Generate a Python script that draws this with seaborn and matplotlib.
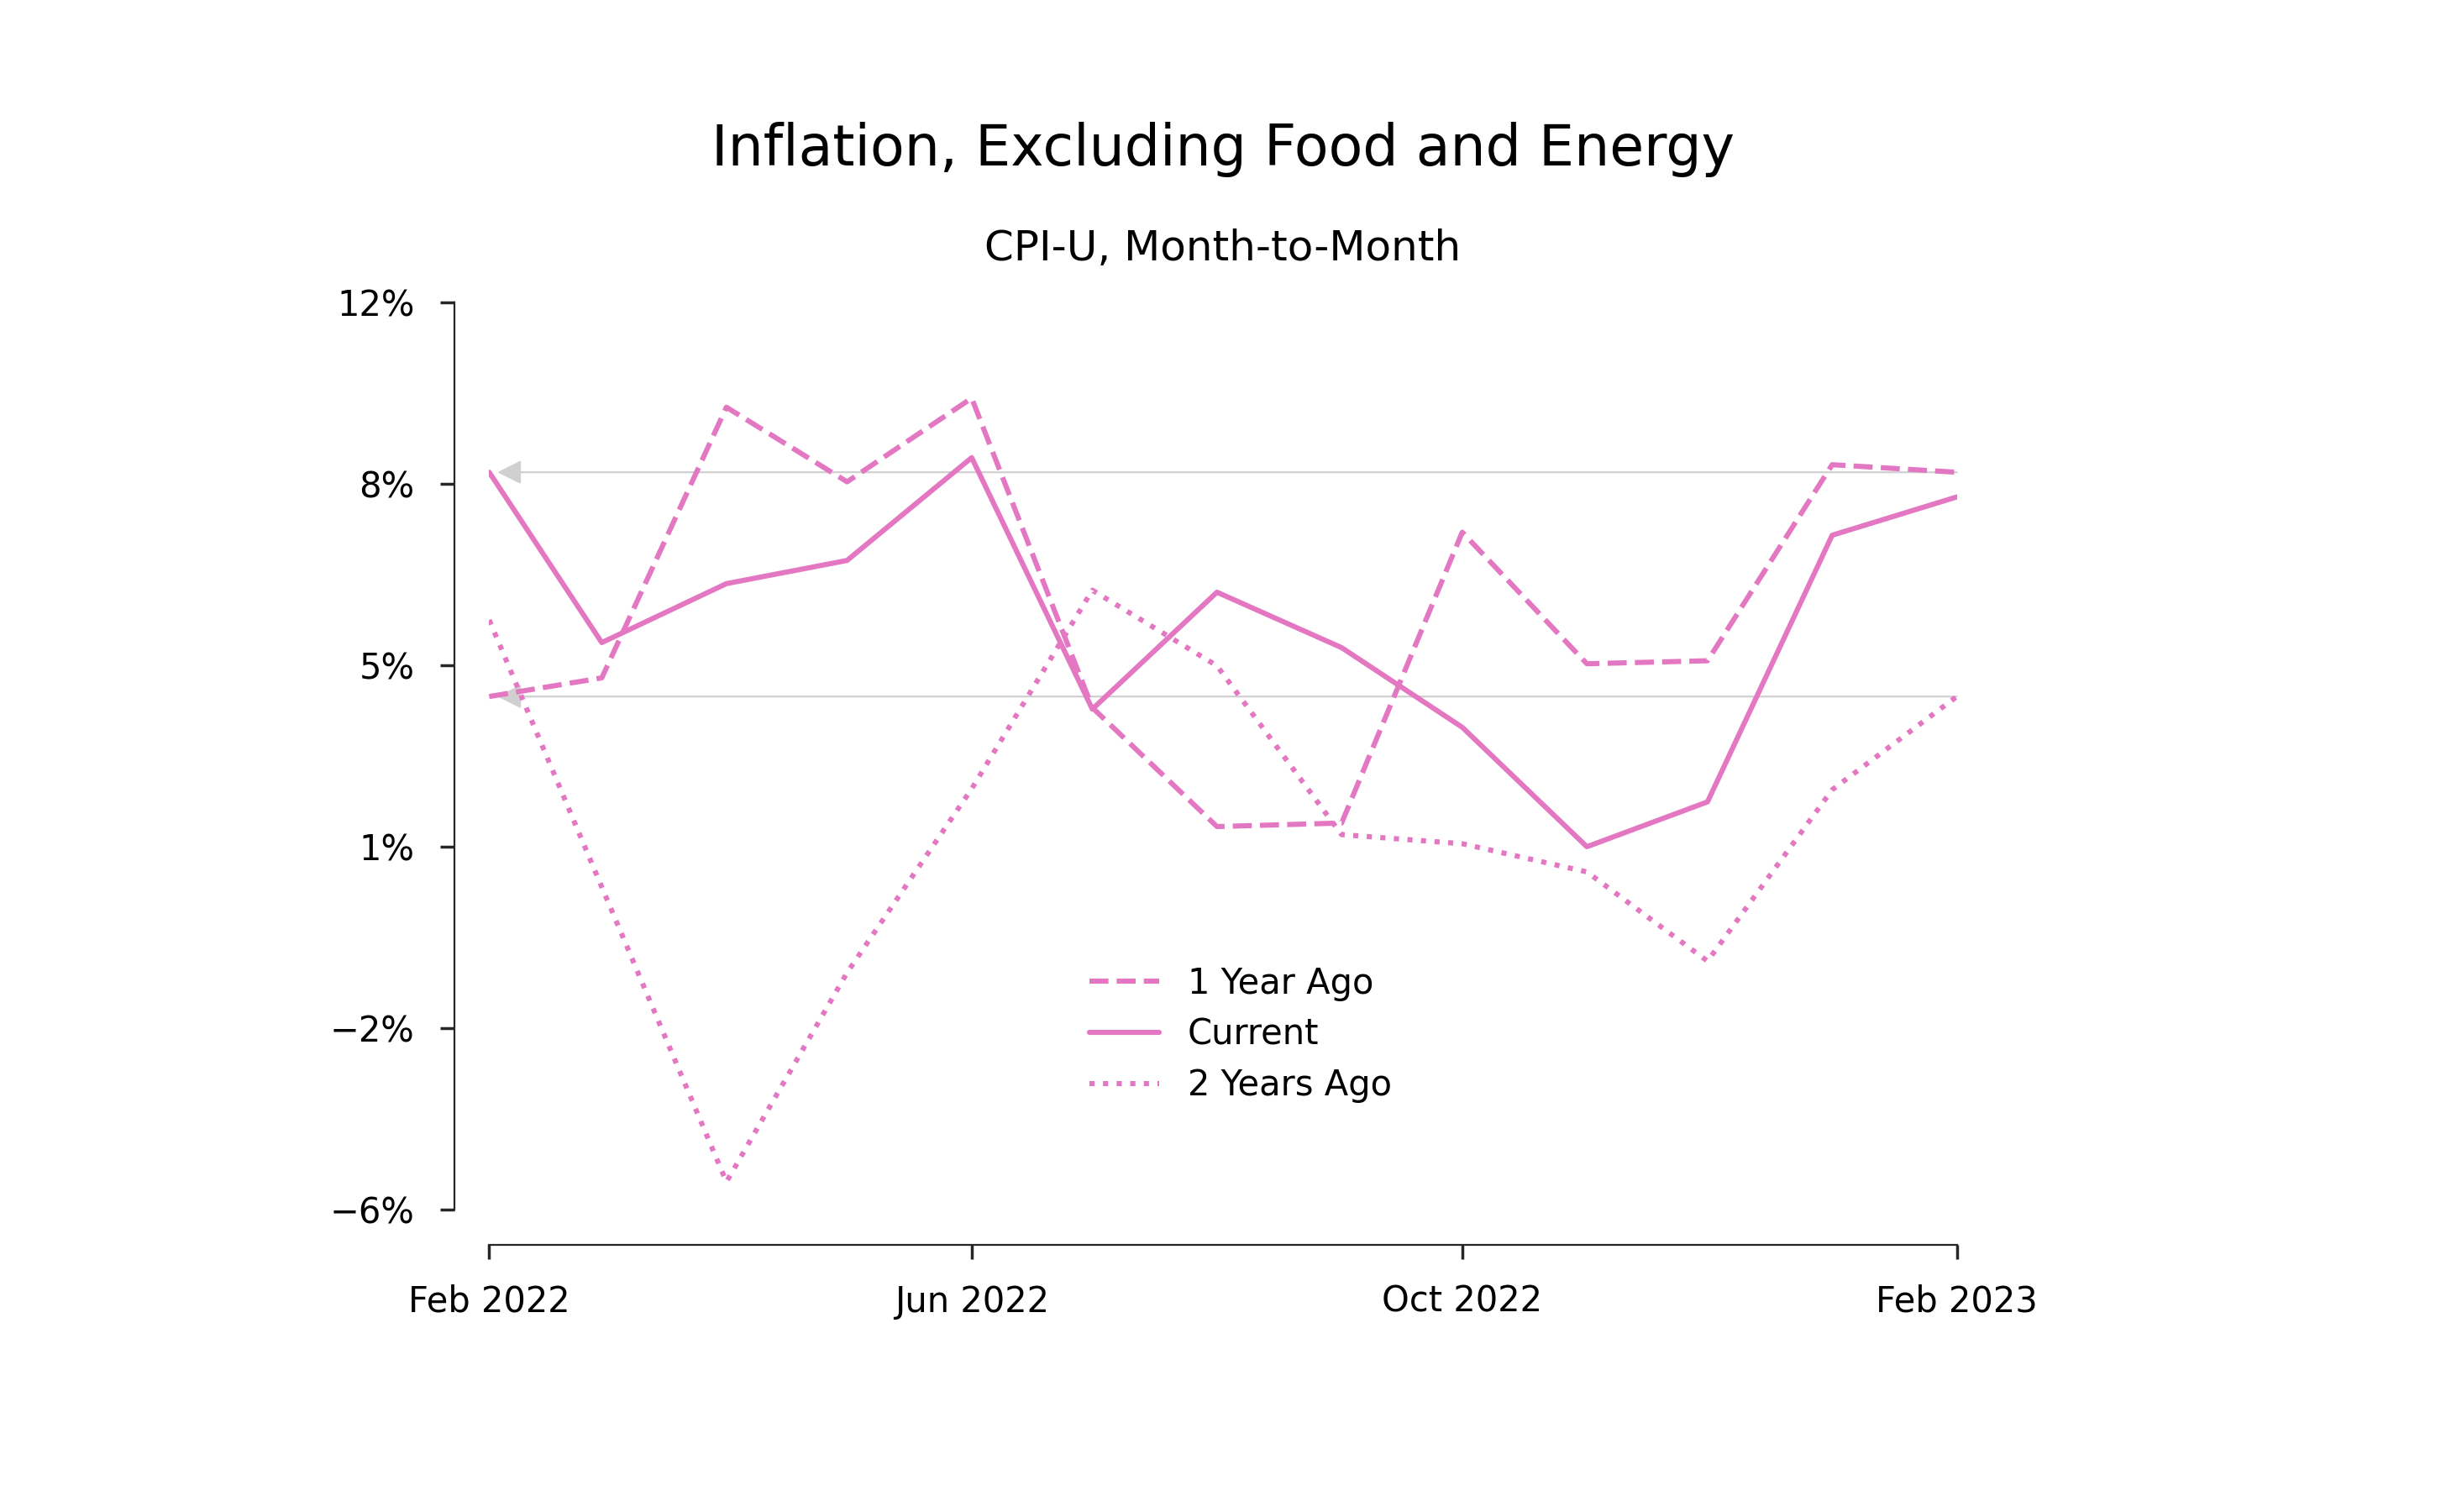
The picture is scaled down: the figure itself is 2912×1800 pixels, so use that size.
import pandas as pd
import seaborn as sns
import matplotlib.pyplot as plt
import matplotlib.dates as mdates
import matplotlib.ticker as mticker

# monthly values, Feb 2022 .. Feb 2023 (percent, annualised month-to-month)
months = pd.date_range("2022-02-01", "2023-02-01", freq="MS")
current = [8.63, 5.25, 6.42, 6.88, 8.92, 3.93, 6.25, 5.15, 3.57, 1.20, 2.09, 7.38, 8.14]
one_year_ago = [4.18, 4.55, 9.92, 8.44, 10.10, 3.96, 1.60, 1.67, 7.44, 4.83, 4.89, 8.78, 8.63]
two_years_ago = [5.70, 0.40, -5.45, -1.30, 2.35, 6.29, 4.79, 1.44, 1.26, 0.70, -1.07, 2.33, 4.18]

series = ["1 Year Ago", "Current", "2 Years Ago"]
styles = ["--", "-", ":"]

df = pd.DataFrame({
    "month": months,
    "1 Year Ago": one_year_ago,
    "Current": current,
    "2 Years Ago": two_years_ago,
})

sns.set_style("ticks")
plt.rcParams["text.color"] = "black"
pink = "#e377c2"

fig = plt.figure(figsize=(14.56, 9), dpi=200)
ax = fig.add_axes([0.2, 0.2, 0.6, 0.6])

# gray arrows: value a year later ends where the previous line started
for v in [current[0], one_year_ago[0]]:
    ax.annotate("", xy=(mdates.date2num(months[0]), v), xytext=(mdates.date2num(months[-1]), v),
                arrowprops=dict(arrowstyle="-|>", color="#d0d0d0", lw=0.8,
                                shrinkA=0, shrinkB=3.5, mutation_scale=22),
                zorder=1)

for name, ls in zip(series, styles):
    sns.lineplot(data=df, x="month", y=name, color=pink, linestyle=ls, lw=2.2, label=name, ax=ax)

ax.set_xlim(months[0], months[-1])
ax.set_ylim(-6, 12)
ax.set_yticks([-6, -2.4, 1.2, 4.8, 8.4, 12])
ax.yaxis.set_major_formatter(mticker.PercentFormatter(decimals=0))
ax.xaxis.set_major_locator(mdates.MonthLocator(bymonth=[2, 6, 10]))
ax.xaxis.set_major_formatter(mdates.DateFormatter("%b %Y"))
ax.set_xlabel("")
ax.set_ylabel("")
ax.tick_params(labelsize=15, pad=11, length=6, width=1.25, colors="0.15", labelcolor="black")

sns.despine(ax=ax, offset=15, trim=True)

leg = ax.legend(frameon=False, fontsize=15, loc="center", bbox_to_anchor=(0.512, 0.193), labelspacing=0.45)
for t in leg.get_texts():
    t.set_color("black")

fig.text(0.5, 0.8906, "Inflation, Excluding Food and Energy", ha="center", va="baseline", fontsize=24, color="black")
fig.text(0.5, 0.8278, "CPI-U, Month-to-Month", ha="center", va="baseline", fontsize=18, color="black")

fig.savefig("out.png", dpi=200)
